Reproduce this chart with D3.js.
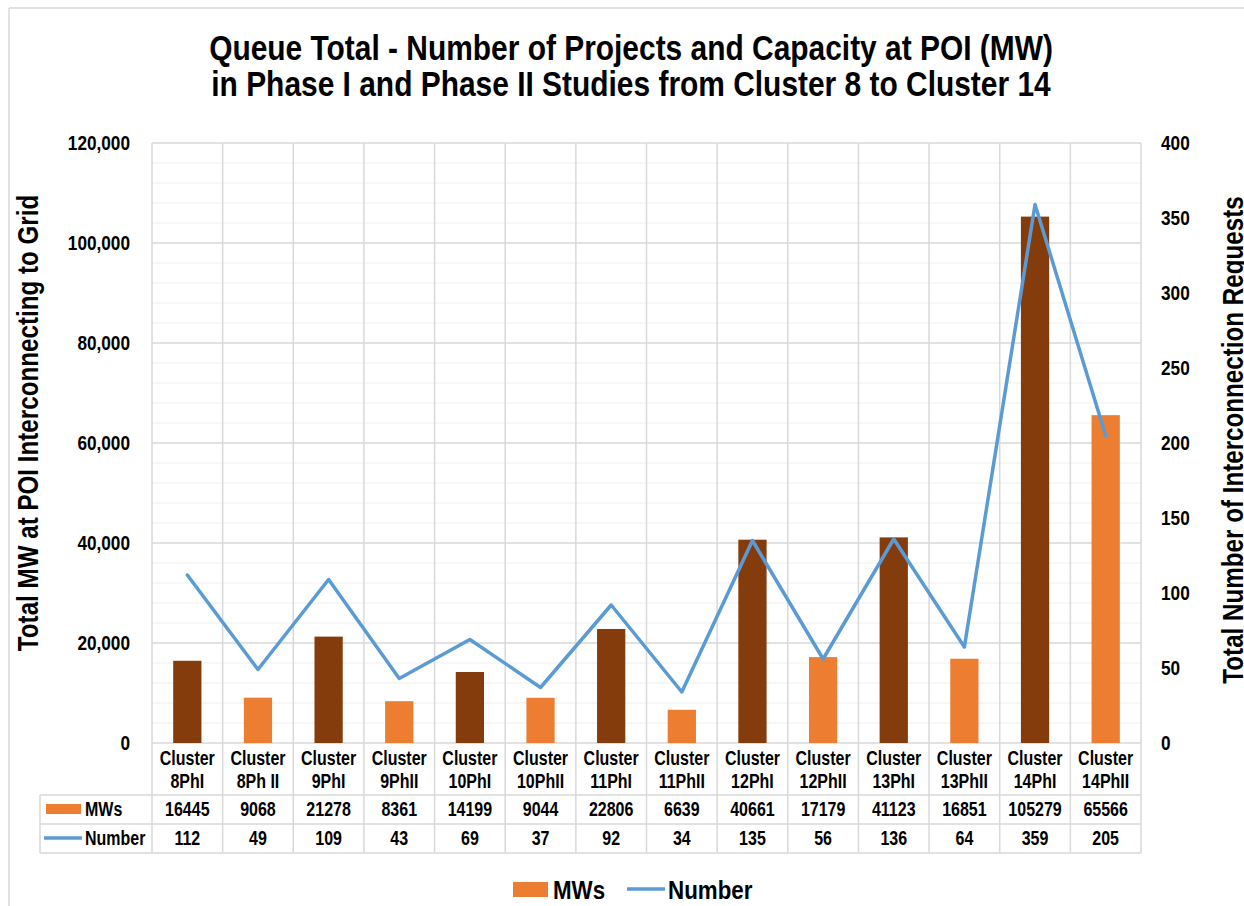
<!DOCTYPE html>
<html>
<head>
<meta charset="utf-8">
<script src="https://cdn.jsdelivr.net/npm/d3@7"></script>
<style>
  body { margin: 0; background: #fff; }
  text { font-family: "Liberation Sans Narrow", "Arial Narrow", "Liberation Sans", sans-serif; font-weight: bold; fill: #000; }
</style>
</head>
<body>
<script>
var clusters = ["8PhI", "8Ph II", "9PhI", "9PhII", "10PhI", "10PhII", "11PhI", "11PhII",
                "12PhI", "12PhII", "13PhI", "13PhII", "14PhI", "14PhII"];
var mws = [16445, 9068, 21278, 8361, 14199, 9044, 22806, 6639, 40661, 17179, 41123, 16851, 105279, 65566];
var numbers = [112, 49, 109, 43, 69, 37, 92, 34, 135, 56, 136, 64, 359, 205];
var leftTicks = [0, 20000, 40000, 60000, 80000, 100000, 120000];
var rightTicks = [0, 50, 100, 150, 200, 250, 300, 350, 400];

var width = 1244;
var height = 906;
var plot = {left: 152, right: 1141, top: 143, bottom: 743};
var tableRows = [795, 824, 853];
var tableLeft = 40;
var squeeze = 0.82;  // no narrow font installed, so squeeze the regular one

var colPhI = "#843C0C";
var colPhII = "#ED7D31";
var colLine = "#5B9BD5";
var gridCol = "#d9d9d9";

// horizontal squeeze of a text around its own x
function narrow(sel, k) {
    k = k || squeeze;
    sel.each(function(){
        var x = +this.getAttribute("x") || 0;
        d3.select(this).attr("transform",
            "translate(" + x + ",0) scale(" + k + ",1) translate(" + (-x) + ",0)");
    });
}

var svg = d3.select("body").append("svg")
    .attr("width", width)
    .attr("height", height);

// outer frame (only top and left visible in the crop)
svg.append("line").attr("x1", 9).attr("y1", 8).attr("x2", width).attr("y2", 8)
    .attr("stroke", gridCol).attr("stroke-width", 1.5);
svg.append("line").attr("x1", 9).attr("y1", 8).attr("x2", 9).attr("y2", height)
    .attr("stroke", gridCol).attr("stroke-width", 1.5);

var xScale = d3.scaleBand()
    .domain(clusters)
    .range([plot.left, plot.right]);

var yLeft = d3.scaleLinear()
    .domain([0, 120000])
    .range([plot.bottom, plot.top]);

var yRight = d3.scaleLinear()
    .domain([0, 400])
    .range([plot.bottom, plot.top]);

// minor gridlines
svg.append("g").selectAll("line")
    .data(d3.range(0, 120001, 4000).filter(function(v){ return v % 20000 != 0; }))
    .enter().append("line")
    .attr("x1", plot.left).attr("x2", plot.right)
    .attr("y1", function(d){ return yLeft(d); })
    .attr("y2", function(d){ return yLeft(d); })
    .attr("stroke", "#efefef").attr("stroke-width", 1.2);

// major gridlines
svg.append("g").selectAll("line")
    .data(leftTicks)
    .enter().append("line")
    .attr("x1", plot.left).attr("x2", plot.right)
    .attr("y1", function(d){ return yLeft(d); })
    .attr("y2", function(d){ return yLeft(d); })
    .attr("stroke", gridCol).attr("stroke-width", 1.5);

// vertical lines through plot and data table
var bounds = clusters.map(function(c){ return xScale(c); }).concat([plot.right]);
svg.append("g").selectAll("line")
    .data(bounds)
    .enter().append("line")
    .attr("x1", function(d){ return d; })
    .attr("x2", function(d){ return d; })
    .attr("y1", plot.top)
    .attr("y2", tableRows[2])
    .attr("stroke", gridCol).attr("stroke-width", 1.5);

// table horizontal lines
svg.append("g").selectAll("line")
    .data(tableRows)
    .enter().append("line")
    .attr("x1", tableLeft).attr("x2", plot.right)
    .attr("y1", function(d){ return d; })
    .attr("y2", function(d){ return d; })
    .attr("stroke", gridCol).attr("stroke-width", 1.5);
svg.append("line")
    .attr("x1", tableLeft).attr("x2", tableLeft)
    .attr("y1", tableRows[0]).attr("y2", tableRows[2])
    .attr("stroke", gridCol).attr("stroke-width", 1.5);

// bars
var barW = xScale.bandwidth() * 0.4;
svg.append("g").selectAll("rect")
    .data(clusters)
    .enter().append("rect")
    .attr("x", function(d){ return xScale(d) + (xScale.bandwidth() - barW) / 2; })
    .attr("y", function(d, i){ return yLeft(mws[i]); })
    .attr("width", barW)
    .attr("height", function(d, i){ return plot.bottom - yLeft(mws[i]); })
    .attr("fill", function(d){ return d.indexOf("II") >= 0 ? colPhII : colPhI; });

// line
var line = d3.line()
    .x(function(d, i){ return xScale(clusters[i]) + xScale.bandwidth() / 2; })
    .y(function(d){ return yRight(d); });

svg.append("path")
    .datum(numbers)
    .attr("d", line)
    .attr("fill", "none")
    .attr("stroke", colLine)
    .attr("stroke-width", 3.5)
    .attr("stroke-linejoin", "round")
    .attr("stroke-linecap", "round");

// axes
var leftAxis = svg.append("g")
    .attr("transform", "translate(" + plot.left + ",0)")
    .call(d3.axisLeft(yLeft).tickValues(leftTicks).tickSize(0).tickPadding(22).tickFormat(d3.format(",")));
leftAxis.select(".domain").remove();
leftAxis.selectAll("text").style("font-size", "21px").style("font-family", null).call(narrow);

var rightAxis = svg.append("g")
    .attr("transform", "translate(" + plot.right + ",0)")
    .call(d3.axisRight(yRight).tickValues(rightTicks).tickSize(0).tickPadding(20));
rightAxis.select(".domain").remove();
rightAxis.selectAll("text").style("font-size", "21px").style("font-family", null).call(narrow);

// category labels (table header row)
var catG = svg.append("g");
clusters.forEach(function(c){
    var cx = xScale(c) + xScale.bandwidth() / 2;
    var t = catG.append("text")
        .attr("x", cx)
        .attr("text-anchor", "middle")
        .style("font-size", "19.5px");
    t.append("tspan").attr("x", cx).attr("y", 765).text("Cluster");
    t.append("tspan").attr("x", cx).attr("y", 788).text(c);
    t.call(narrow);
});

// table values
svg.append("g").selectAll("text")
    .data(mws)
    .enter().append("text")
    .attr("x", function(d, i){ return xScale(clusters[i]) + xScale.bandwidth() / 2; })
    .attr("y", 816)
    .attr("text-anchor", "middle")
    .style("font-size", "19.5px")
    .text(function(d){ return d; })
    .call(narrow);

svg.append("g").selectAll("text")
    .data(numbers)
    .enter().append("text")
    .attr("x", function(d, i){ return xScale(clusters[i]) + xScale.bandwidth() / 2; })
    .attr("y", 845)
    .attr("text-anchor", "middle")
    .style("font-size", "19.5px")
    .text(function(d){ return d; })
    .call(narrow);

// table legend keys
svg.append("rect").attr("x", 46).attr("y", 804).attr("width", 35).attr("height", 10).attr("fill", colPhII);
svg.append("text").attr("x", 85).attr("y", 816).style("font-size", "19.5px").text("MWs").call(narrow);
svg.append("line").attr("x1", 44).attr("x2", 82).attr("y1", 838).attr("y2", 838)
    .attr("stroke", colLine).attr("stroke-width", 3.5);
svg.append("text").attr("x", 85).attr("y", 845).style("font-size", "19.5px").text("Number").call(narrow);

// title
var title = svg.append("text")
    .attr("x", 631)
    .attr("text-anchor", "middle")
    .style("font-size", "35px");
title.append("tspan").attr("x", 631).attr("y", 60).text("Queue Total - Number of Projects and Capacity at POI (MW)");
title.append("tspan").attr("x", 631).attr("y", 96).text("in Phase I and Phase II Studies from Cluster 8 to Cluster 14");
title.call(narrow, 0.855);

// axis titles
svg.append("text")
    .attr("transform", "translate(38,423) rotate(-90) scale(" + squeeze + ",1)")
    .attr("text-anchor", "middle")
    .style("font-size", "29.5px")
    .text("Total MW at POI Interconnecting to Grid");

svg.append("text")
    .attr("transform", "translate(1243,440) rotate(-90) scale(" + squeeze + ",1)")
    .attr("text-anchor", "middle")
    .style("font-size", "29.5px")
    .text("Total Number of Interconnection Requests");

// bottom legend
svg.append("rect").attr("x", 513).attr("y", 882).attr("width", 35).attr("height", 15).attr("fill", colPhII);
svg.append("text").attr("x", 553).attr("y", 899).style("font-size", "26px").text("MWs").call(narrow, 0.86);
svg.append("line").attr("x1", 627).attr("x2", 665).attr("y1", 889).attr("y2", 889)
    .attr("stroke", colLine).attr("stroke-width", 3.5);
svg.append("text").attr("x", 668).attr("y", 899).style("font-size", "26px").text("Number").call(narrow, 0.86);
</script>
</body>
</html>
